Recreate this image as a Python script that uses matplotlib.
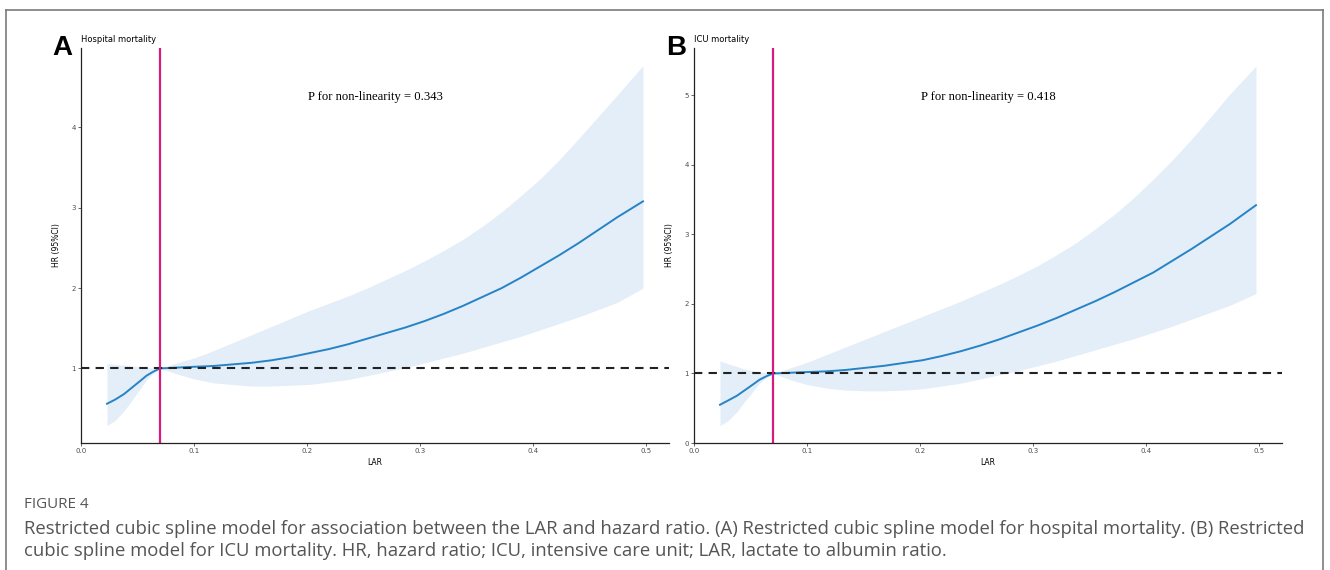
import numpy as np
import matplotlib.pyplot as plt
from matplotlib.lines import Line2D

# ---- data ----
# panel A : hospital mortality
lar_a = [0.023, 0.030, 0.038, 0.045, 0.052, 0.058, 0.064, 0.070, 0.085, 0.100, 0.117, 0.134,
         0.151, 0.168, 0.185, 0.202, 0.219, 0.236, 0.253, 0.270, 0.287, 0.304, 0.321, 0.338,
         0.355, 0.372, 0.389, 0.406, 0.423, 0.440, 0.457, 0.474, 0.497]
hr_a = [0.56, 0.61, 0.68, 0.76, 0.84, 0.91, 0.96, 1.00, 1.01, 1.02, 1.03, 1.05,
        1.07, 1.10, 1.14, 1.19, 1.24, 1.30, 1.37, 1.44, 1.51, 1.59, 1.68, 1.78,
        1.89, 2.00, 2.13, 2.27, 2.41, 2.56, 2.72, 2.88, 3.08]
hi_a = [1.06, 1.05, 1.04, 1.03, 1.02, 1.01, 1.005, 1.00, 1.07, 1.13, 1.22, 1.32,
        1.42, 1.52, 1.62, 1.72, 1.81, 1.90, 2.00, 2.11, 2.22, 2.34, 2.47, 2.61,
        2.77, 2.95, 3.15, 3.36, 3.60, 3.86, 4.13, 4.40, 4.77]
lo_a = [0.29, 0.35, 0.47, 0.60, 0.74, 0.86, 0.94, 1.00, 0.93, 0.87, 0.82, 0.80,
        0.78, 0.78, 0.79, 0.80, 0.83, 0.86, 0.91, 0.96, 1.01, 1.07, 1.13, 1.19,
        1.26, 1.33, 1.40, 1.48, 1.56, 1.64, 1.73, 1.82, 2.00]

# panel B : ICU mortality
lar_b = lar_a
hr_b = [0.55, 0.61, 0.68, 0.76, 0.84, 0.91, 0.96, 1.00, 1.01, 1.02, 1.03, 1.05,
        1.08, 1.11, 1.15, 1.19, 1.25, 1.32, 1.40, 1.49, 1.59, 1.69, 1.80, 1.92,
        2.04, 2.17, 2.31, 2.45, 2.62, 2.79, 2.97, 3.15, 3.42]
hi_b = [1.18, 1.14, 1.10, 1.06, 1.04, 1.02, 1.01, 1.00, 1.08, 1.16, 1.27, 1.38,
        1.49, 1.60, 1.71, 1.82, 1.93, 2.04, 2.16, 2.28, 2.41, 2.55, 2.71, 2.88,
        3.08, 3.29, 3.53, 3.79, 4.07, 4.37, 4.69, 5.02, 5.42]
lo_b = [0.25, 0.32, 0.45, 0.60, 0.74, 0.86, 0.94, 1.00, 0.91, 0.84, 0.79, 0.76,
        0.75, 0.75, 0.76, 0.78, 0.82, 0.86, 0.92, 0.98, 1.04, 1.11, 1.18, 1.26,
        1.34, 1.42, 1.50, 1.59, 1.68, 1.78, 1.88, 1.98, 2.15]

knot = 0.07
p_vals = ["0.343", "0.418"]
titles = ["Hospital mortality", "ICU mortality"]
letters = ["A", "B"]
ylims = [(0.071, 4.99), (0.0, 5.68)]
yticks = [[1, 2, 3, 4], [0, 1, 2, 3, 4, 5]]
xticks = [0.0, 0.1, 0.2, 0.3, 0.4, 0.5]

caption = ("Restricted cubic spline model for association between the LAR and hazard ratio. (A) Restricted cubic spline model for hospital mortality. (B) Restricted\n"
           "cubic spline model for ICU mortality. HR, hazard ratio; ICU, intensive care unit; LAR, lactate to albumin ratio.")

W, H = 1330, 570
fig = plt.figure(figsize=(W / 100, H / 100), dpi=100)

# outer frame of the figure box
for xs, ys in [([6, 1323], [10, 10]), ([6, 6], [10, 570]), ([1323, 1323], [10, 570])]:
    fig.add_artist(Line2D([x / W for x in xs], [1 - y / H for y in ys], color="#7a7a7a", lw=1.2))

panels = [
    (lar_a, hr_a, lo_a, hi_a),
    (lar_b, hr_b, lo_b, hi_b),
]
lefts = [81, 694]

for i, (x, hr, lo, hi) in enumerate(panels):
    ax = fig.add_axes([lefts[i] / W, (H - 443) / H, 588 / W, 395 / H])
    ax.fill_between(x, lo, hi, color="#e4eef8", lw=0)
    ax.plot(x, hr, color="#2683c6", lw=1.4)
    ax.axhline(1, color="#222222", lw=1.5, ls=(0, (4, 3)))
    ax.axvline(knot, color="#d81b7f", lw=1.6)
    ax.set_xlim(0, 0.52)
    ax.set_ylim(*ylims[i])
    ax.set_xticks(xticks)
    ax.set_xticklabels([f"{t:.1f}" for t in xticks])
    ax.set_yticks(yticks[i])
    ax.tick_params(labelsize=5, colors="#4d4d4d", length=2, width=0.6, pad=1.5)
    for s in ["top", "right"]:
        ax.spines[s].set_visible(False)
    for s in ["left", "bottom"]:
        ax.spines[s].set_linewidth(0.9)
        ax.spines[s].set_color("#222222")
    ax.set_xlabel("LAR", fontsize=5.5, labelpad=3)
    ax.set_ylabel("HR (95%CI)", fontsize=5.5, labelpad=8)
    ax.text(0.5, 0.876, f"P for non-linearity = {p_vals[i]}", transform=ax.transAxes,
            ha="center", va="center", family="Liberation Serif", fontsize=9.1)
    ax.text(0.0, 1.01, titles[i], transform=ax.transAxes, ha="left", va="bottom", fontsize=6)
    ax.text(-0.031, 1.0, letters[i], transform=ax.transAxes, ha="center", va="center",
            fontsize=20, fontweight="bold", family="Liberation Sans")

fig.text(24 / W, 1 - 505 / H, "FIGURE 4", fontsize=10.9, color="#555555", family="Open Sans",
         va="center", ha="left")
fig.text(24 / W, 1 - 540 / H, caption, fontsize=13.3, color="#555555", family="Open Sans",
         va="center", ha="left", linespacing=1.27)

fig.savefig("out.png", dpi=100)
